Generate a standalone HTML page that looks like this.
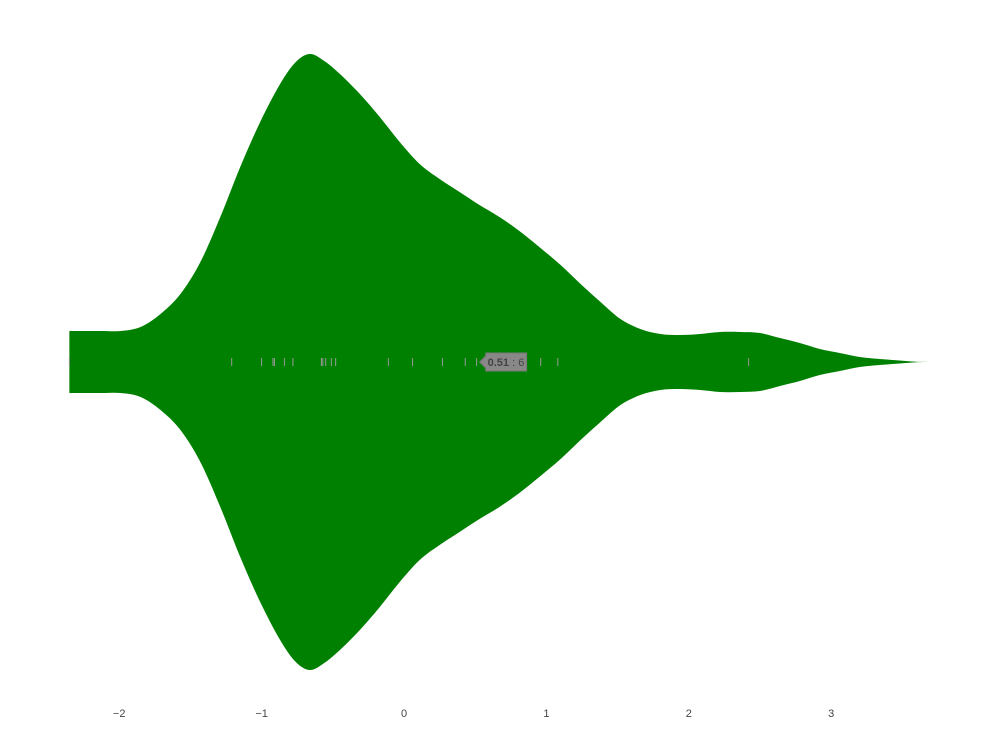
<!DOCTYPE html>
<html><head><meta charset="utf-8"><style>
body{margin:0;background:#fff;font-family:"Liberation Sans",sans-serif}
svg{display:block}
</style></head><body>
<svg id="chart" width="992" height="744">
<g id="violin"></g>
<g id="rug"></g>
<g id="xaxis"></g>
<g id="tip"></g>
</svg>
<script>
// density curve samples (x value, half-width density)
const densX = [-2.35,-2.13,-1.99,-1.85,-1.71,-1.57,-1.43,-1.29,-1.15,-1.01,-0.87,-0.76,-0.66,-0.56,-0.45,-0.31,-0.17,-0.03,0.11,0.25,0.39,0.53,0.67,0.81,0.95,1.10,1.24,1.38,1.52,1.66,1.80,1.94,2.08,2.22,2.36,2.50,2.64,2.78,2.92,3.06,3.20,3.34,3.48,3.60,3.71];
const densY = [31,31,31,35,48,68,100,145,195,240,278,300,308,301,288,268,245,220,198,183,170,157,145,131,115,97,78,60,43,33,28,27,28,30,30,29,24,19,13,9,5,3,1.5,0.2,0];
const points = [-2.35,-1.21,-1.00,-0.92,-0.91,-0.84,-0.78,-0.58,-0.57,-0.55,-0.51,-0.48,-0.11,0.06,0.27,0.43,0.51,0.96,1.08,2.42];
const ticks = [-2,-1,0,1,2,3];
const tickLabels = ["\u22122","\u22121","0","1","2","3"];
const hoverValue = "0.51", hoverCount = "6";

const NS="http://www.w3.org/2000/svg";
const xs = v => 404 + (v)*142.4;
const cy = 362;
const ws = d => d;
function cr(pts){
  let d = "M"+pts[0][0]+","+pts[0][1];
  for(let i=0;i<pts.length-1;i++){
    const p0=pts[Math.max(i-1,0)],p1=pts[i],p2=pts[i+1],p3=pts[Math.min(i+2,pts.length-1)];
    const c1=[p1[0]+(p2[0]-p0[0])/6,p1[1]+(p2[1]-p0[1])/6];
    const c2=[p2[0]-(p3[0]-p1[0])/6,p2[1]-(p3[1]-p1[1])/6];
    d+=" C"+c1.join(",")+" "+c2.join(",")+" "+p2.join(",");
  }
  return d;
}
const topPts = densX.map((x,i)=>[xs(x),cy-ws(densY[i])]);
const botPts = densX.map((x,i)=>[xs(x),cy+ws(densY[i])]).reverse();
let pd = cr(topPts);
pd += " L"+botPts[0].join(",");
pd += cr(botPts).replace(/^M[^ ]+/,"");
pd += " Z";
const vpath=document.createElementNS(NS,"path");
vpath.setAttribute("d",pd);vpath.setAttribute("fill","#008000");


document.getElementById("violin").appendChild(vpath);

const rug=document.getElementById("rug");
points.forEach(p=>{
  const l=document.createElementNS(NS,"line");
  l.setAttribute("x1",xs(p));l.setAttribute("x2",xs(p));
  l.setAttribute("y1",cy-4);l.setAttribute("y2",cy+4);
  l.setAttribute("stroke","#999");l.setAttribute("stroke-width","1");
  
  
  rug.appendChild(l);
});
const ax=document.getElementById("xaxis");
ticks.forEach((t,i)=>{
  const tx=document.createElementNS(NS,"text");
  tx.setAttribute("x",xs(t));tx.setAttribute("y",717);
  tx.setAttribute("text-anchor","middle");tx.setAttribute("font-size","11");
  tx.setAttribute("fill","#444");tx.textContent=tickLabels[i];
  
  
  ax.appendChild(tx);
});
const tip=document.getElementById("tip");
const hx=xs(0.51);
tip.innerHTML='<path d="M'+(hx+3)+','+cy+' l6,-6 v-3 h41 v18 h-41 v-3 z" fill="#888" stroke="#777"/>'+
 '<text x="'+(hx+11)+'" y="'+(cy+4)+'" font-size="11" fill="#444"><tspan font-weight="bold">'+hoverValue+'</tspan> : '+hoverCount+'</text>';
</script>
</body></html>
